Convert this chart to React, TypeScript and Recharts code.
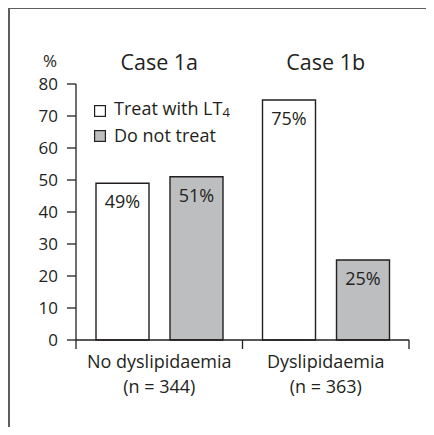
import React from 'react';
import { BarChart, Bar, XAxis, YAxis, Legend, LabelList, Label } from 'recharts';

const categories = ['No dyslipidaemia', 'Dyslipidaemia'];
const sampleSizes = ['(n = 344)', '(n = 363)'];
const caseTitles = ['Case 1a', 'Case 1b'];
const treatValues = [49, 75];
const doNotTreatValues = [51, 25];
const yTicks = [0, 10, 20, 30, 40, 50, 60, 70, 80];

const data = categories.map((name, i) => ({
  name,
  n: sampleSizes[i],
  caseTitle: caseTitles[i],
  treat: treatValues[i],
  doNotTreat: doNotTreatValues[i]
}));

const W = 434;
const H = 435;
const FONT = '"Open Sans", sans-serif';
const INK = '#231f20';
const GREY = '#bcbec0';
const MARGIN = { top: 40, right: 25, left: 24, bottom: 35 };
const Y_AXIS_W = 52;
const BAND = (W - MARGIN.left - MARGIN.right - Y_AXIS_W) / categories.length;

const pct = (v: number) => `${v}%`;

// bottom axis: ticks sit at the category edges, two-line label in the middle
const CategoryTick = (props: any) => {
  const { x, y, payload, index } = props;
  const item = data[index] || data.find(d => d.name === payload.value);
  return (
    <g>
      {index === 0 && <line x1={x - BAND / 2} x2={x - BAND / 2} y1={y} y2={y + 9} stroke={INK} strokeWidth={1.3} />}
      <line x1={x + BAND / 2} x2={x + BAND / 2} y1={y} y2={y + 9} stroke={INK} strokeWidth={1.3} />
      <text x={x} y={y + 28} textAnchor="middle" fontSize={18} fill={INK} fontFamily={FONT}>{payload.value}</text>
      <text x={x} y={y + 53} textAnchor="middle" fontSize={18} fill={INK} fontFamily={FONT}>{item ? item.n : ''}</text>
    </g>
  );
};

const LegendBox = () => (
  <div style={{ fontFamily: FONT, fontSize: 18, color: INK, lineHeight: '23px' }}>
    <div style={{ display: 'flex', alignItems: 'center' }}>
      <svg width={12} height={12} style={{ marginRight: 8 }}>
        <rect x={0.6} y={0.6} width={10.8} height={10.8} fill="#fff" stroke={INK} strokeWidth={1.2} />
      </svg>
      <span>Treat with LT<sub style={{ fontSize: 13, verticalAlign: '-2px' }}>4</sub></span>
    </div>
    <div style={{ display: 'flex', alignItems: 'center' }}>
      <svg width={12} height={12} style={{ marginRight: 8 }}>
        <rect x={0.6} y={0.6} width={10.8} height={10.8} fill={GREY} stroke={INK} strokeWidth={1.2} />
      </svg>
      <span>Do not treat</span>
    </div>
  </div>
);

export default function App() {
  return (
    <div style={{ position: 'relative', width: W, height: H, margin: -8, background: '#fff', overflow: 'hidden' }}>
      <div style={{ position: 'absolute', left: 8, top: 7, width: W, height: H, borderTop: '2px solid #5e5e5e', borderLeft: '2px solid #5e5e5e' }} />
      <div style={{ position: 'absolute', left: 0, top: 0 }}>
        <BarChart width={W} height={H} data={data} margin={MARGIN} barSize={53} barGap={21}>
          <XAxis
            dataKey="name"
            height={60}
            axisLine={{ stroke: INK, strokeWidth: 1.3 }}
            tickLine={false}
            tickSize={0}
            tickMargin={0}
            tick={<CategoryTick />}
            interval={0}
          />
          <XAxis
            xAxisId="top"
            dataKey="caseTitle"
            orientation="top"
            height={44}
            axisLine={false}
            tickLine={false}
            tickSize={0}
            tickMargin={14}
            tick={{ fontSize: 21.5, fill: INK, fontFamily: FONT }}
            interval={0}
          />
          <YAxis
            width={Y_AXIS_W}
            domain={[0, 80]}
            ticks={yTicks}
            interval={0}
            axisLine={{ stroke: INK, strokeWidth: 1.3 }}
            tickLine={{ stroke: INK, strokeWidth: 1.3 }}
            tickSize={9}
            tickMargin={9}
            tick={{ fontSize: 17, fill: INK, fontFamily: FONT }}
          >
            <Label value="%" position="top" offset={17} fontSize={17} fill={INK} fontFamily={FONT} />
          </YAxis>
          <Legend
            layout="horizontal"
            verticalAlign="middle"
            align="center"
            content={<LegendBox />}
            wrapperStyle={{ position: 'absolute', left: 94, top: 97, width: 'auto' }}
          />
          <Bar dataKey="treat" name="Treat with LT4" fill="#fff" stroke={INK} strokeWidth={1.4} isAnimationActive={false}>
            <LabelList dataKey="treat" position="insideTop" offset={12} formatter={pct} fontSize={18} fill={INK} fontFamily={FONT} />
          </Bar>
          <Bar dataKey="doNotTreat" name="Do not treat" fill={GREY} stroke={INK} strokeWidth={1.4} isAnimationActive={false}>
            <LabelList dataKey="doNotTreat" position="insideTop" offset={12} formatter={pct} fontSize={18} fill={INK} fontFamily={FONT} />
          </Bar>
        </BarChart>
      </div>
    </div>
  );
}
